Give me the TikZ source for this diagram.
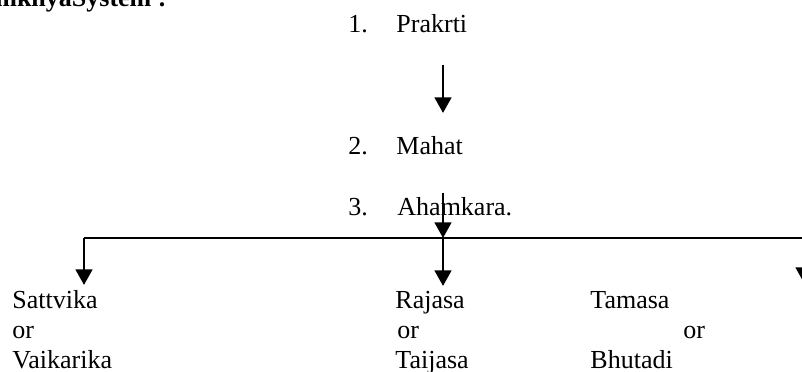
\documentclass[tikz,border=0pt]{standalone}
\usepackage{fontspec}
\setmainfont{Liberation Serif}
\usetikzlibrary{arrows.meta}
\tikzset{
  lbl/.style = {anchor=base west, inner sep=0pt, font=\fontsize{12}{14}\selectfont},
  arr/.style = {-{Triangle[width=7.6pt,length=7.2pt]}, line width=1.35pt},
  bar/.style = {line width=1.1pt}
}

\begin{document}
\begin{tikzpicture}[x=0.4615pt,y=-0.4615pt]

  \useasboundingbox (0,0) rectangle (802,371);
  \clip (0,0) rectangle (802,371);

  % heading, cut at the page edge
  \node[lbl, anchor=base east, font=\fontsize{12}{14}\selectfont\bfseries] (title) at (167,6) {SamkhyaSystem :};

  % the chain
  \node[lbl] (n1) at (348,32) {1.};
  \node[lbl] (prakrti) at (396,32) {Prakrti};
  \node[lbl] (n2) at (348,154) {2.};
  \node[lbl] (mahat) at (396,154) {Mahat};
  \node[lbl] (n3) at (348,215) {3.};
  \node[lbl] (ahamkara) at (397,215) {Ahamkara.};

  \coordinate (a1) at (443,65);
  \coordinate (b1) at (443,113);
  \coordinate (a2) at (443,193);
  \coordinate (hub) at (443,238);
  \coordinate (left) at (84,238);
  \coordinate (right) at (804,238);

  % the three gunas
  \node[lbl] (sattvika) at (12,308) {Sattvika};
  \node[lbl] (or1) at (12,338) {or};
  \node[lbl] (vaikarika) at (12,368) {Vaikarika};
  \node[lbl] (rajasa) at (395,308) {Rajasa};
  \node[lbl] (or2) at (397,338) {or};
  \node[lbl] (taijasa) at (395,368) {Taijasa};
  \node[lbl] (tamasa) at (590,308) {Tamasa};
  \node[lbl] (or3) at (683,338) {or};
  \node[lbl] (bhutadi) at (590,368) {Bhutadi};

  \coordinate (t1) at (84,285);
  \coordinate (t2) at (443,286);
  \coordinate (t3) at (804,283);

  \draw[arr] (a1) -- (b1);
  \draw[arr] (a2) -- (hub);
  \draw[bar] (left) -- (right);
  \draw[arr] (left) -- (t1);
  \draw[arr] (hub) -- (t2);
  \draw[arr] (right) -- (t3);

\end{tikzpicture}
\end{document}
